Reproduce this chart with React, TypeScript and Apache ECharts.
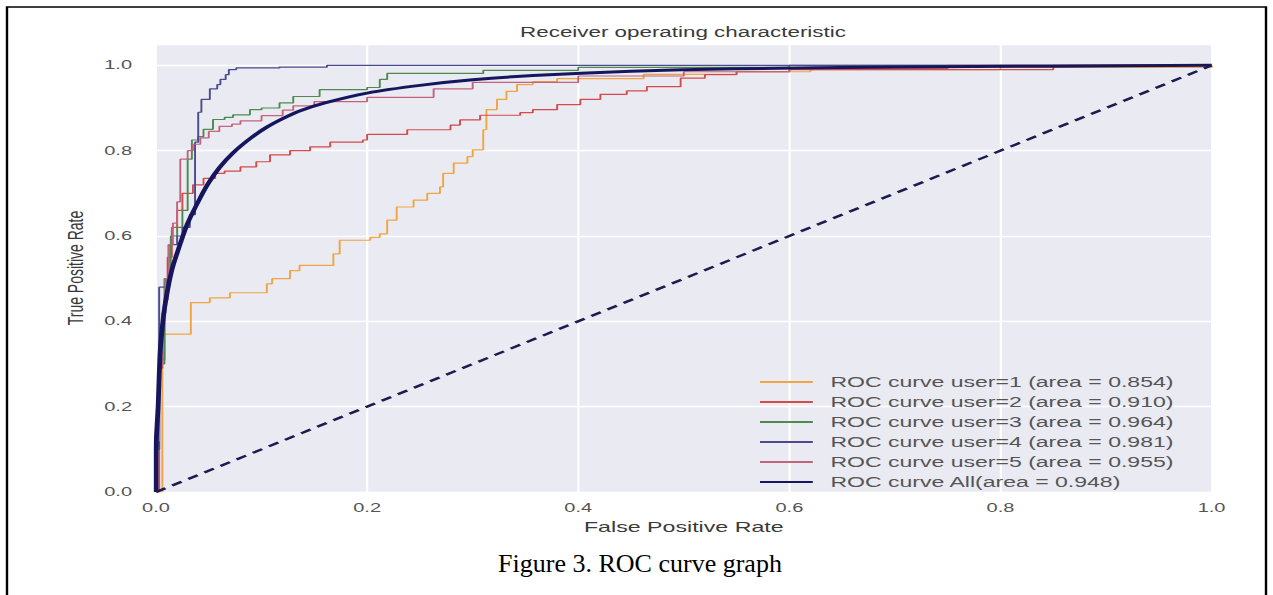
import React, { useEffect, useRef } from 'react';
import * as echarts from 'echarts';

// The reference figure is stretched horizontally; the chart is laid out
// in unstretched units and the container is scaled along x.
const STRETCH = 1.6;
const PAGE_W = 1273;
const PAGE_H = 595;
const FONT = '"Liberation Sans", Arial, sans-serif';

const titleText = 'Receiver operating characteristic';
const xAxisName = 'False Positive Rate';
const yAxisName = 'True Positive Rate';
const captionText = 'Figure 3. ROC curve graph';

const seriesNames = [
  'ROC curve user=1 (area = 0.854)',
  'ROC curve user=2 (area = 0.910)',
  'ROC curve user=3 (area = 0.964)',
  'ROC curve user=4 (area = 0.981)',
  'ROC curve user=5 (area = 0.955)',
  'ROC curve All(area = 0.948)',
];

// [false positive rate, true positive rate] at each step of the curve
const user1 = [
  [0, 0], [0.006, 0.37], [0.033, 0.444], [0.051, 0.455], [0.07, 0.467], [0.105, 0.488],
  [0.11, 0.5], [0.127, 0.519], [0.136, 0.531], [0.168, 0.558], [0.174, 0.59], [0.203, 0.597],
  [0.212, 0.605], [0.219, 0.637], [0.228, 0.668], [0.244, 0.684], [0.257, 0.7], [0.269, 0.715],
  [0.272, 0.747], [0.282, 0.771], [0.295, 0.786], [0.3, 0.802], [0.31, 0.849], [0.313, 0.896],
  [0.323, 0.92], [0.332, 0.939], [0.342, 0.955], [0.357, 0.962], [0.38, 0.969], [0.462, 0.979],
  [0.55, 0.985], [0.62, 0.99], [0.8, 0.995], [1, 1],
];
const user2 = [
  [0, 0], [0.003, 0.29], [0.006, 0.31], [0.008, 0.45], [0.011, 0.55], [0.015, 0.62],
  [0.02, 0.66], [0.025, 0.7], [0.035, 0.72], [0.045, 0.735], [0.056, 0.747], [0.065, 0.752],
  [0.08, 0.762], [0.095, 0.774], [0.108, 0.79], [0.127, 0.8], [0.146, 0.809], [0.165, 0.82],
  [0.196, 0.825], [0.2, 0.838], [0.238, 0.849], [0.279, 0.86], [0.288, 0.872], [0.307, 0.883],
  [0.345, 0.889], [0.357, 0.896], [0.38, 0.908], [0.402, 0.92], [0.421, 0.932], [0.446, 0.94],
  [0.465, 0.95], [0.497, 0.97], [0.52, 0.978], [0.55, 0.985], [0.6, 0.99], [0.85, 1], [1, 1],
];
const user3 = [
  [0, 0], [0, 0.1], [0.003, 0.3], [0.008, 0.5], [0.014, 0.6], [0.02, 0.62], [0.025, 0.66],
  [0.03, 0.78], [0.034, 0.825], [0.04, 0.833], [0.045, 0.85], [0.054, 0.873], [0.065, 0.878],
  [0.073, 0.884], [0.089, 0.896], [0.1, 0.9], [0.117, 0.912], [0.13, 0.927], [0.155, 0.943],
  [0.2, 0.948], [0.212, 0.967], [0.219, 0.981], [0.31, 0.988], [0.4, 0.995], [0.6, 1], [1, 1],
];
const user4 = [
  [0, 0], [0, 0.1], [0.003, 0.48], [0.01, 0.5], [0.012, 0.58], [0.02, 0.6], [0.025, 0.62],
  [0.032, 0.65], [0.037, 0.82], [0.04, 0.89], [0.043, 0.92], [0.051, 0.945], [0.058, 0.955],
  [0.061, 0.967], [0.066, 0.978], [0.069, 0.99], [0.076, 0.994], [0.117, 0.996], [0.162, 1], [1, 1],
];
const user5 = [
  [0, 0], [0, 0.12], [0.003, 0.3], [0.006, 0.42], [0.009, 0.5], [0.012, 0.58], [0.016, 0.63],
  [0.02, 0.68], [0.023, 0.78], [0.03, 0.8], [0.035, 0.815], [0.042, 0.83], [0.05, 0.845],
  [0.06, 0.857], [0.072, 0.862], [0.08, 0.87], [0.1, 0.882], [0.12, 0.895], [0.13, 0.905],
  [0.15, 0.915], [0.2, 0.925], [0.263, 0.945], [0.3, 0.96], [0.4, 0.975], [0.5, 0.985],
  [0.6, 0.993], [0.75, 1], [1, 1],
];
const allUsers = [
  [0, 0], [0, 0.1], [0.002, 0.2], [0.004, 0.33], [0.007, 0.41], [0.01, 0.46], [0.015, 0.52],
  [0.02, 0.56], [0.03, 0.63], [0.042, 0.69], [0.05, 0.725], [0.06, 0.76], [0.073, 0.795],
  [0.09, 0.83], [0.105, 0.855], [0.12, 0.875], [0.136, 0.893], [0.16, 0.912], [0.2, 0.935],
  [0.25, 0.953], [0.3, 0.966], [0.357, 0.976], [0.45, 0.986], [0.55, 0.992], [0.7, 0.996],
  [0.85, 0.998], [1, 1],
];
const chanceLine = [[0, 0], [1, 1]];

const userCurves = [user1, user2, user3, user4, user5];
const curveColors = ['#F0A542', '#D44B4B', '#4E8A50', '#4A4A8E', '#C2647C', '#16165E'];

export default function App() {
  const ref = useRef<HTMLDivElement>(null);

  useEffect(() => {
    if (!ref.current) return;
    const chart = echarts.init(ref.current, null, { renderer: 'svg' });
    const S = STRETCH;
    const W = PAGE_W / S;

    const series: any[] = userCurves.map((data, i) => ({
      type: 'line',
      name: seriesNames[i],
      data,
      step: 'end',
      symbol: 'none',
      showSymbol: false,
      lineStyle: { color: curveColors[i], width: 1.2 },
      itemStyle: { color: curveColors[i] },
      z: 2 + i,
    }));
    series.push({
      type: 'line',
      name: seriesNames[5],
      data: allUsers,
      smooth: 0.25,
      symbol: 'none',
      showSymbol: false,
      lineStyle: { color: curveColors[5], width: 3 },
      itemStyle: { color: curveColors[5] },
      z: 10,
    });
    series.push({
      type: 'line',
      name: 'chance',
      data: chanceLine,
      symbol: 'none',
      showSymbol: false,
      silent: true,
      lineStyle: { color: '#1C1C50', width: 2.3, type: [7, 5] },
      z: 11,
    });

    chart.setOption({
      animation: false,
      backgroundColor: '#ffffff',
      title: {
        text: titleText,
        left: 683 / S - 5,
        top: 20,
        textAlign: 'center',
        textStyle: { fontSize: 14, fontWeight: 'normal', color: '#3a3a3a', fontFamily: FONT },
      },
      grid: {
        left: 156 / S,
        right: W - 1211 / S,
        top: 44,
        bottom: PAGE_H - 492,
        show: true,
        backgroundColor: '#EAEAF2',
        borderWidth: 0,
      },
      legend: {
        orient: 'vertical',
        left: 469,
        top: 370,
        itemWidth: 33,
        itemHeight: 14,
        itemGap: 6,
        selectedMode: false,
        data: seriesNames,
        itemStyle: { opacity: 0 },
        textStyle: { fontSize: 14.4, color: '#555555', fontFamily: FONT, padding: [0, 0, 0, 6] },
      },
      xAxis: {
        type: 'value',
        min: 0,
        max: 1,
        interval: 0.2,
        name: xAxisName,
        nameLocation: 'middle',
        nameGap: 22,
        nameTextStyle: { fontSize: 14.5, color: '#3a3a3a', fontFamily: FONT },
        axisLine: { show: false },
        axisTick: { show: false },
        axisLabel: {
          formatter: (v: number) => v.toFixed(1),
          fontSize: 12.5,
          color: '#555',
          margin: 9,
          fontFamily: FONT,
        },
        splitLine: { show: true, lineStyle: { color: '#ffffff', width: 1.3 } },
      },
      yAxis: {
        type: 'value',
        min: 0,
        max: 1.05,
        interval: 0.2,
        name: yAxisName,
        nameLocation: 'middle',
        nameGap: 42,
        nameTextStyle: { fontSize: 14, color: '#3a3a3a', fontFamily: FONT },
        axisLine: { show: false },
        axisTick: { show: false },
        axisLabel: {
          formatter: (v: number) => v.toFixed(1),
          showMaxLabel: false,
          fontSize: 12.5,
          color: '#555',
          margin: 15,
          fontFamily: FONT,
        },
        splitLine: { show: true, lineStyle: { color: '#ffffff', width: 1.3 } },
      },
      graphic: [
        {
          type: 'rect',
          silent: true,
          shape: { x: 7 / S, y: 7, width: (1266 - 7) / S, height: 600 },
          style: { fill: 'none', stroke: '#000', lineWidth: 1.5 },
        },
        {
          type: 'text',
          silent: true,
          x: 640 / S,
          y: 563,
          scaleX: 1 / S,
          style: {
            text: captionText,
            fontSize: 26,
            fontFamily: '"Liberation Serif", "Times New Roman", serif',
            fill: '#000',
            align: 'center',
            verticalAlign: 'middle',
          },
        },
      ],
      series,
    });

    return () => chart.dispose();
  }, []);

  return (
    <div
      ref={ref}
      style={{
        position: 'absolute',
        left: 0,
        top: 0,
        width: PAGE_W / STRETCH + 'px',
        height: PAGE_H + 'px',
        transform: `scaleX(${STRETCH})`,
        transformOrigin: '0 0',
      }}
    />
  );
}
